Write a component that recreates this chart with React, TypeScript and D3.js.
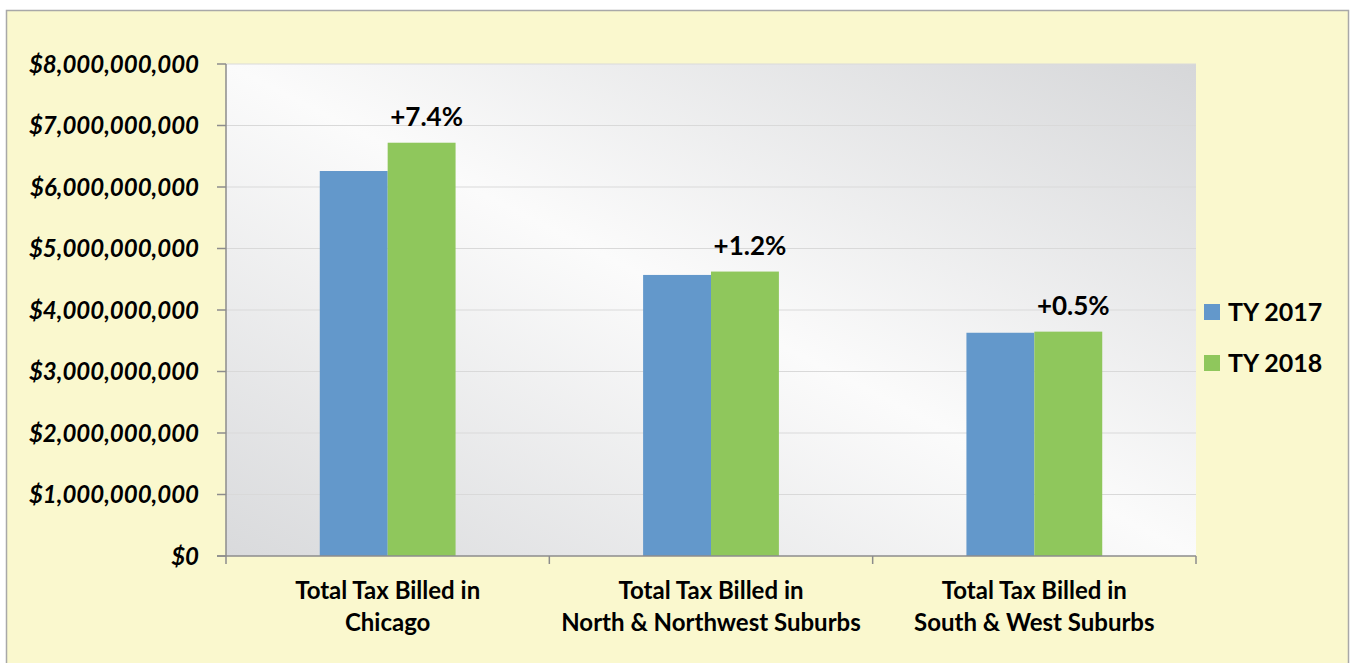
import React from 'react';
import * as d3 from 'd3';

const categories = [
  ['Total Tax Billed in', 'Chicago'],
  ['Total Tax Billed in', 'North & Northwest Suburbs'],
  ['Total Tax Billed in', 'South & West Suburbs'],
];
const seriesNames = ['TY 2017', 'TY 2018'];
const ty2017 = [6.26e9, 4.57e9, 3.63e9];
const ty2018 = [6.72e9, 4.625e9, 3.648e9];
const changeLabels = ['+7.4%', '+1.2%', '+0.5%'];
const yTicks = [0, 1e9, 2e9, 3e9, 4e9, 5e9, 6e9, 7e9, 8e9];

const colors = ['#6398CB', '#8FC75C'];
const font = 'Lato, "Open Sans", sans-serif';

const W = 1351;
const H = 663;
const plot = { left: 226, right: 1196, top: 64, bottom: 556 };

const App: React.FC = () => {
  const x0 = d3
    .scaleBand<number>()
    .domain(d3.range(categories.length))
    .range([plot.left, plot.right])
    .paddingInner(0.58)
    .paddingOuter(0.29);
  const x1 = d3.scaleBand<number>().domain([0, 1]).range([0, x0.bandwidth()]);
  const y = d3.scaleLinear().domain([0, 8e9]).range([plot.bottom, plot.top]);
  const fmt = (v: number) => '$' + d3.format(',')(v);
  const series = [ty2017, ty2018];
  const step = x0.step();

  return (
    <svg width={W} height={H} style={{ position: 'absolute', left: 0, top: 0 }}>
      <defs>
        <linearGradient id="plotBg" x1="0" y1="1" x2="1" y2="0">
          <stop offset="0" stopColor="#D9DADC" />
          <stop offset="0.5" stopColor="#FBFBFB" />
          <stop offset="1" stopColor="#D6D7D9" />
        </linearGradient>
      </defs>
      <rect x={6.5} y={10.5} width={1342} height={700} fill="#FAF8CE" stroke="#A8A8A8" strokeWidth={1.5} />
      <rect
        x={plot.left}
        y={plot.top}
        width={plot.right - plot.left}
        height={plot.bottom - plot.top}
        fill="url(#plotBg)"
      />
      {/* gridlines */}
      {yTicks.slice(1).map((t) => (
        <line key={t} x1={plot.left} x2={plot.right} y1={y(t)} y2={y(t)} stroke="#D9D9D9" strokeWidth={1.2} />
      ))}
      {/* bars */}
      {categories.map((_, i) => (
        <g key={i} transform={`translate(${x0(i)},0)`}>
          {series.map((s, j) => (
            <rect
              key={j}
              x={x1(j)}
              y={y(s[i])}
              width={x1.bandwidth()}
              height={plot.bottom - y(s[i])}
              fill={colors[j]}
            />
          ))}
          <text
            x={(x1(1) as number) + x1.bandwidth() / 2 + 5}
            y={y(ty2018[i]) - 17}
            textAnchor="middle"
            fontFamily={font}
            fontWeight="bold"
            fontSize={26}
            fill="#000"
          >
            {changeLabels[i]}
          </text>
        </g>
      ))}
      {/* axes */}
      <line x1={plot.left} x2={plot.left} y1={plot.top} y2={plot.bottom} stroke="#8C8C8C" strokeWidth={1.5} />
      <line x1={plot.left - 9} x2={plot.right} y1={plot.bottom} y2={plot.bottom} stroke="#8C8C8C" strokeWidth={1.5} />
      {yTicks.map((t) => (
        <g key={t}>
          <line x1={plot.left - 9} x2={plot.left} y1={y(t)} y2={y(t)} stroke="#8C8C8C" strokeWidth={1.5} />
          <text
            x={199}
            y={y(t)}
            dy="0.36em"
            textAnchor="end"
            fontFamily={font}
            fontWeight="bold"
            fontStyle="italic"
            fontSize={24}
            fill="#000"
          >
            {fmt(t)}
          </text>
        </g>
      ))}
      {d3.range(categories.length + 1).map((i) => {
        const xx = plot.left + i * step;
        return <line key={i} x1={xx} x2={xx} y1={plot.bottom} y2={plot.bottom + 8} stroke="#8C8C8C" strokeWidth={1.5} />;
      })}
      {categories.map((lines, i) => (
        <text
          key={i}
          x={(x0(i) as number) + x0.bandwidth() / 2}
          textAnchor="middle"
          fontFamily={font}
          fontWeight="bold"
          fontSize={24}
          fill="#000"
        >
          {lines.map((l, k) => (
            <tspan key={k} x={(x0(i) as number) + x0.bandwidth() / 2} y={599 + k * 32}>
              {l}
            </tspan>
          ))}
        </text>
      ))}
      {/* legend */}
      {seriesNames.map((name, j) => (
        <g key={name} transform={`translate(1204,${304 + j * 51})`}>
          <rect x={0} y={0} width={16} height={16} fill={colors[j]} />
          <text x={24} y={8} dy="0.36em" fontFamily={font} fontWeight="bold" fontSize={25} fill="#000">
            {name}
          </text>
        </g>
      ))}
    </svg>
  );
};

export default App;
